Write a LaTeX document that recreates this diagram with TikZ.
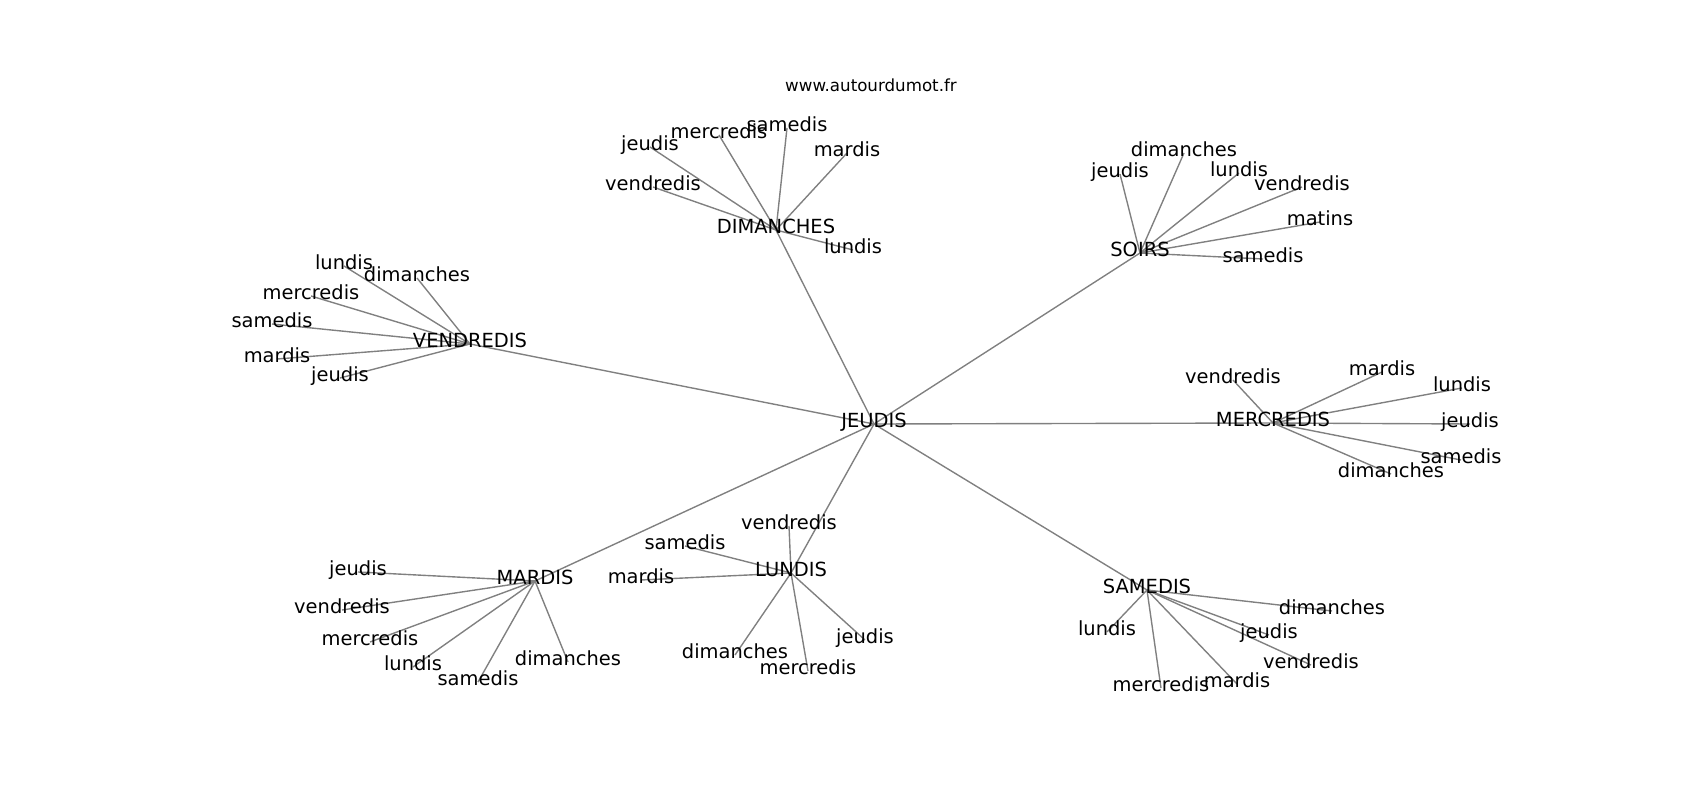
\documentclass[tikz,border=0pt]{standalone}
\usepackage{fontspec}
\setmainfont{DejaVu Sans}
\usetikzlibrary{backgrounds}

\begin{document}
\begin{tikzpicture}[x=0.01in,y=-0.01in,
    word/.style={inner sep=0pt,text height=0.76em,text depth=0.208em,
        font=\fontsize{14bp}{16bp}\selectfont},
    link/.style={draw=black!50,line width=1bp}]
    \useasboundingbox (0,-3) rectangle (1700,797);
    \node[word,font=\fontsize{12bp}{14bp}\selectfont] (title) at (871,85) {www.autourdumot.fr};
    % hubs
    \node[word] (jeu) at (874,421) {JEUDIS};
    \node[word] (dim) at (776,227) {DIMANCHES};
    \node[word] (soi) at (1140,250) {SOIRS};
    \node[word] (ven) at (470,341) {VENDREDIS};
    \node[word] (mer) at (1273,420) {MERCREDIS};
    \node[word] (mar) at (535,578) {MARDIS};
    \node[word] (lun) at (791,570) {LUNDIS};
    \node[word] (sam) at (1147,587) {SAMEDIS};
    % around DIMANCHES
    \node[word] (dim-jeu) at (650,144) {jeudis};
    \node[word] (dim-mer) at (719,132) {mercredis};
    \node[word] (dim-sam) at (787,125) {samedis};
    \node[word] (dim-mar) at (847,150) {mardis};
    \node[word] (dim-ven) at (653,184) {vendredis};
    \node[word] (dim-lun) at (853,247) {lundis};
    % around SOIRS
    \node[word] (soi-dim) at (1184,150) {dimanches};
    \node[word] (soi-jeu) at (1120,171) {jeudis};
    \node[word] (soi-lun) at (1239,170) {lundis};
    \node[word] (soi-ven) at (1302,184) {vendredis};
    \node[word] (soi-mat) at (1320,219) {matins};
    \node[word] (soi-sam) at (1263,256) {samedis};
    % around VENDREDIS
    \node[word] (ven-lun) at (344,263) {lundis};
    \node[word] (ven-dim) at (417,275) {dimanches};
    \node[word] (ven-mer) at (311,293) {mercredis};
    \node[word] (ven-sam) at (272,321) {samedis};
    \node[word] (ven-mar) at (277,356) {mardis};
    \node[word] (ven-jeu) at (340,375) {jeudis};
    % around MERCREDIS
    \node[word] (mer-ven) at (1233,377) {vendredis};
    \node[word] (mer-mar) at (1382,369) {mardis};
    \node[word] (mer-lun) at (1462,385) {lundis};
    \node[word] (mer-jeu) at (1470,421) {jeudis};
    \node[word] (mer-sam) at (1461,457) {samedis};
    \node[word] (mer-dim) at (1391,471) {dimanches};
    % around MARDIS
    \node[word] (mar-jeu) at (358,569) {jeudis};
    \node[word] (mar-ven) at (342,607) {vendredis};
    \node[word] (mar-mer) at (370,639) {mercredis};
    \node[word] (mar-lun) at (413,664) {lundis};
    \node[word] (mar-sam) at (478,679) {samedis};
    \node[word] (mar-dim) at (568,659) {dimanches};
    % around LUNDIS
    \node[word] (lun-ven) at (789,523) {vendredis};
    \node[word] (lun-sam) at (685,543) {samedis};
    \node[word] (lun-mar) at (641,577) {mardis};
    \node[word] (lun-dim) at (735,652) {dimanches};
    \node[word] (lun-mer) at (808,668) {mercredis};
    \node[word] (lun-jeu) at (865,637) {jeudis};
    % around SAMEDIS
    \node[word] (sam-dim) at (1332,608) {dimanches};
    \node[word] (sam-lun) at (1107,629) {lundis};
    \node[word] (sam-jeu) at (1269,632) {jeudis};
    \node[word] (sam-ven) at (1311,662) {vendredis};
    \node[word] (sam-mer) at (1161,685) {mercredis};
    \node[word] (sam-mar) at (1237,681) {mardis};
    % links, under the words
    \begin{scope}[on background layer]
        \foreach \h in {dim,soi,ven,mer,mar,lun,sam}
            \draw[link] (jeu.center) -- (\h.center);
        \foreach \l in {jeu,mer,sam,mar,ven,lun}
            \draw[link] (dim.center) -- (dim-\l.center);
        \foreach \l in {dim,jeu,lun,ven,mat,sam}
            \draw[link] (soi.center) -- (soi-\l.center);
        \foreach \l in {lun,dim,mer,sam,mar,jeu}
            \draw[link] (ven.center) -- (ven-\l.center);
        \foreach \l in {ven,mar,lun,jeu,sam,dim}
            \draw[link] (mer.center) -- (mer-\l.center);
        \foreach \l in {jeu,ven,mer,lun,sam,dim}
            \draw[link] (mar.center) -- (mar-\l.center);
        \foreach \l in {ven,sam,mar,dim,mer,jeu}
            \draw[link] (lun.center) -- (lun-\l.center);
        \foreach \l in {dim,lun,jeu,ven,mer,mar}
            \draw[link] (sam.center) -- (sam-\l.center);
    \end{scope}
\end{tikzpicture}
\end{document}
